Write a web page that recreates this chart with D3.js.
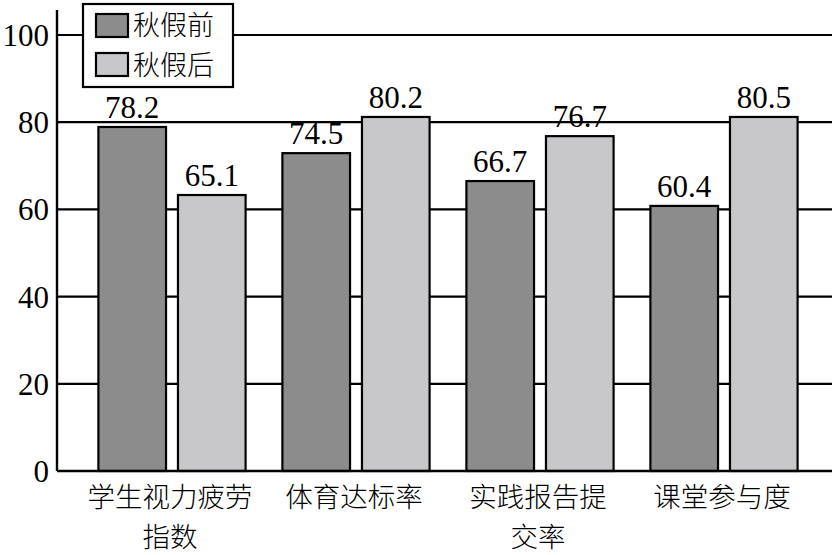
<!DOCTYPE html>
<html>
<head>
<meta charset="utf-8">
<script src="https://cdn.jsdelivr.net/npm/d3@7"></script>
<style>
  body { margin: 0; background: #fff; }
  svg text { font-family: "Liberation Serif", "Noto Sans CJK SC", serif; fill: #000; }
  .cn { font-family: "Noto Sans CJK SC", sans-serif; font-weight: 300; }
</style>
</head>
<body>
<svg id="chart" width="836" height="555"></svg>
<script>
const categories = [['学生视力疲劳', '指数'], ['体育达标率'], ['实践报告提', '交率'], ['课堂参与度']];
const seriesNames = ['秋假前', '秋假后'];
// bar heights as drawn; labels as printed above them
const before = [78.9, 72.9, 66.5, 60.8];
const after = [63.3, 81.2, 76.8, 81.2];
const beforeLabels = ['78.2', '74.5', '66.7', '60.4'];
const afterLabels = ['65.1', '80.2', '76.7', '80.5'];
const yTicks = [0, 20, 40, 60, 80, 100];
const colors = ['#8c8c8c', '#c8c8ca'];

const svg = d3.select('#chart');
const margin = {left: 57, right: 4, top: 10, bottom: 84};
const width = 836, height = 555;
const plotRight = width - margin.right;
const plotBottom = height - margin.bottom;

const y = d3.scaleLinear().domain([0, 100]).range([plotBottom, 35]);
const x = d3.scaleBand()
	.domain(categories.map((d, i) => i))
	.range([80, 816])
	.paddingInner(0.2)
	.paddingOuter(0.1);
const xi = d3.scaleBand().domain([0, 1]).range([0, x.bandwidth()]).paddingInner(0.15);

/* gridlines */
svg.append('g')
	.selectAll('line')
	.data(yTicks.filter(d => d > 0))
	.enter()
	.append('line')
	.attr('x1', margin.left)
	.attr('x2', plotRight)
	.attr('y1', d => y(d))
	.attr('y2', d => y(d))
	.attr('stroke', '#000')
	.attr('stroke-width', 2.2);

/* y axis */
const yAxis = d3.axisLeft(y).tickValues(yTicks).tickSize(0).tickPadding(8);
const yg = svg.append('g')
	.attr('transform', `translate(${margin.left},0)`)
	.call(yAxis);
yg.select('.domain').remove();
yg.selectAll('text').attr('font-size', 31).attr('dy', '0.34em').style('font-family', '"Liberation Serif", serif');

svg.append('line')
	.attr('x1', margin.left).attr('x2', margin.left)
	.attr('y1', margin.top).attr('y2', plotBottom)
	.attr('stroke', '#000').attr('stroke-width', 2.4);

/* bars */
const rows = categories.map((c, i) => ({
	i,
	vals: [before[i], after[i]],
	labels: [beforeLabels[i], afterLabels[i]]
}));

const group = svg.append('g')
	.selectAll('g')
	.data(rows)
	.enter()
	.append('g')
	.attr('transform', d => `translate(${x(d.i)},0)`);

group.selectAll('rect')
	.data(d => d.vals.map((v, s) => ({v, s})))
	.enter()
	.append('rect')
	.attr('x', d => xi(d.s))
	.attr('y', d => y(d.v))
	.attr('width', xi.bandwidth())
	.attr('height', d => plotBottom - y(d.v))
	.attr('fill', d => colors[d.s])
	.attr('stroke', '#000')
	.attr('stroke-width', 2.2);

group.selectAll('text.val')
	.data(d => d.vals.map((v, s) => ({v, s, label: d.labels[s]})))
	.enter()
	.append('text')
	.attr('class', 'val')
	.attr('x', d => xi(d.s) + xi.bandwidth() / 2)
	.attr('y', d => y(d.v) - 9)
	.attr('text-anchor', 'middle')
	.attr('font-size', 31)
	.text(d => d.label);

/* baseline */
svg.append('line')
	.attr('x1', margin.left).attr('x2', plotRight)
	.attr('y1', plotBottom).attr('y2', plotBottom)
	.attr('stroke', '#000').attr('stroke-width', 2.4);

/* category labels, wrapped lines as tspans */
const xl = svg.append('g')
	.selectAll('text')
	.data(rows)
	.enter()
	.append('text')
	.attr('class', 'cn')
	.attr('font-size', 27.5)
	.attr('text-anchor', 'middle')
	.attr('y', 507);
xl.selectAll('tspan')
	.data(d => categories[d.i].map(line => ({line, cx: x(d.i) + x.bandwidth() / 2 - 2})))
	.enter()
	.append('tspan')
	.attr('x', d => d.cx)
	.attr('dy', (d, k) => k === 0 ? 0 : 40)
	.text(d => d.line);

/* legend */
const legend = svg.append('g');
legend.append('rect')
	.attr('x', 83).attr('y', 4)
	.attr('width', 150).attr('height', 83)
	.attr('fill', '#fff')
	.attr('stroke', '#000')
	.attr('stroke-width', 2.2);
legend.selectAll('rect.sw')
	.data(seriesNames)
	.enter()
	.append('rect')
	.attr('class', 'sw')
	.attr('x', 96)
	.attr('y', (d, s) => 14 + s * 39)
	.attr('width', 32).attr('height', 23)
	.attr('fill', (d, s) => colors[s])
	.attr('stroke', '#000')
	.attr('stroke-width', 2.2);
legend.selectAll('text')
	.data(seriesNames)
	.enter()
	.append('text')
	.attr('class', 'cn')
	.attr('font-size', 27)
	.attr('x', 133)
	.attr('y', (d, s) => 35 + s * 39.5)
	.text(d => d);
</script>
</body>
</html>
